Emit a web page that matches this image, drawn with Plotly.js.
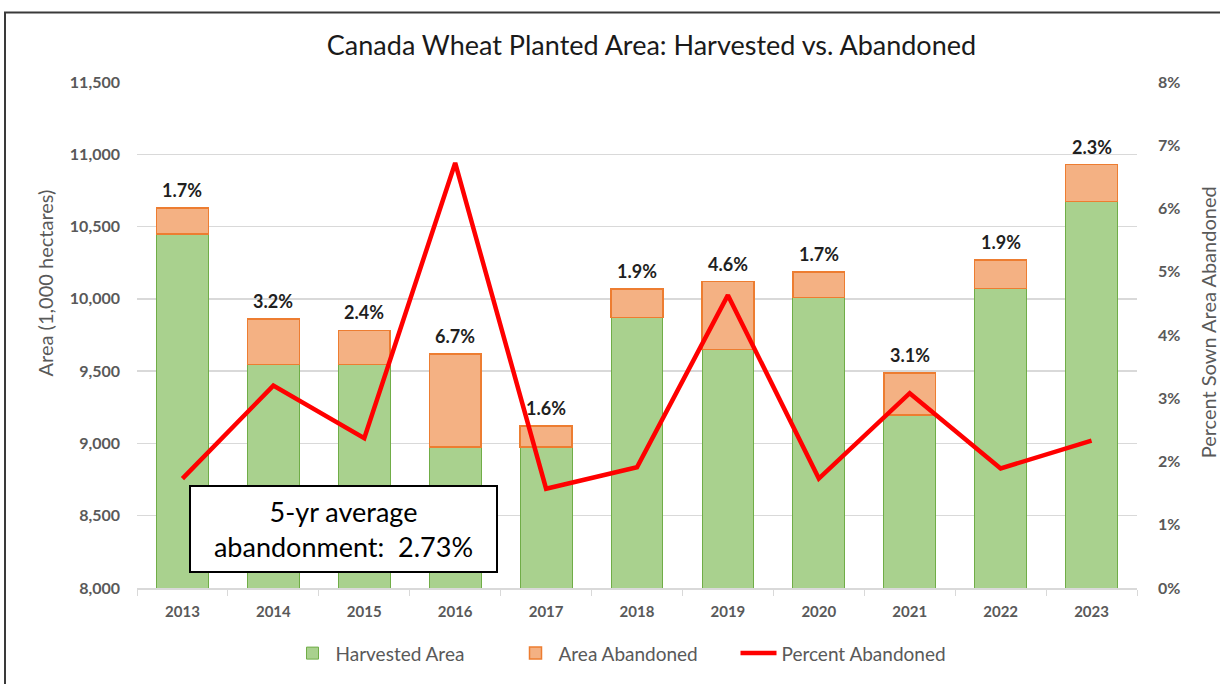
<!DOCTYPE html>
<html>
<head>
<meta charset="utf-8">
<script src="https://cdn.plot.ly/plotly-3.0.1.min.js"></script>
<style>
  html, body { margin: 0; padding: 0; background: #ffffff; }
  #chart { width: 1220px; height: 684px; }
</style>
</head>
<body>
<div id="chart"></div>
<script>
const years = ['2013', '2014', '2015', '2016', '2017', '2018', '2019', '2020', '2021', '2022', '2023'];
const harvestedArea = [10450, 9546, 9546, 8975, 8975, 9872, 9649, 10009, 9196, 10073, 10672];
const abandonedArea = [180, 314, 236, 645, 146, 196, 470, 178, 291, 197, 257];
const percentAbandoned = [1.73, 3.20, 2.37, 6.72, 1.57, 1.91, 4.63, 1.73, 3.08, 1.89, 2.33];
const boxText = '5-yr average<br>abandonment:  2.73%';
const leftTitle = 'Area (1,000 hectares)';
const rightTitle = 'Percent Sown Area Abandoned';

const FONT = 'Lato, "Open Sans", sans-serif';
const GRAY = '#595959';

const traces = [
  {
    type: 'bar', name: 'Harvested Area', x: years, y: harvestedArea,
    marker: { color: '#A9D18E', line: { color: '#70AD47', width: 1 } },
    hoverinfo: 'skip'
  },
  {
    type: 'bar', name: 'Area Abandoned', x: years, y: abandonedArea,
    marker: { color: '#F4B183', line: { color: '#ED7D31', width: 1.5 } },
    hoverinfo: 'skip'
  },
  {
    type: 'scatter', mode: 'lines', name: 'Percent Abandoned', x: years,
    y: percentAbandoned.map(v => v / 100), yaxis: 'y2',
    line: { color: '#FF0000', width: 4.5 },
    hoverinfo: 'skip'
  }
];

const annotations = years.map((yr, i) => ({
  x: i, y: harvestedArea[i] + abandonedArea[i], xref: 'x', yref: 'y',
  text: percentAbandoned[i].toFixed(1) + '%', showarrow: false,
  yanchor: 'bottom', yshift: 5,
  font: { family: FONT, size: 18, color: '#1f1f1f', weight: 'bold' }
}));
annotations.push({
  xref: 'paper', yref: 'paper', x: 0.2065, y: 0.1157,
  xanchor: 'center', yanchor: 'middle', showarrow: false,
  text: boxText, align: 'center',
  width: 301, height: 80, borderpad: 2,
  bgcolor: '#ffffff', bordercolor: '#000000', borderwidth: 2,
  font: { family: FONT, size: 27, color: '#000000' }
});
annotations.push({
  xref: 'paper', yref: 'paper', x: -0.092, y: 0.602,
  xanchor: 'center', yanchor: 'middle', showarrow: false, textangle: -90,
  text: leftTitle, font: { family: FONT, size: 20, color: GRAY }
});
annotations.push({
  xref: 'paper', yref: 'paper', x: 1.071, y: 0.525,
  xanchor: 'center', yanchor: 'middle', showarrow: false, textangle: -90,
  text: rightTitle, font: { family: FONT, size: 20, color: GRAY }
});

const layout = {
  width: 1220, height: 684,
  margin: { l: 137, r: 83, t: 82, b: 92 },
  paper_bgcolor: '#ffffff', plot_bgcolor: '#ffffff',
  font: { family: FONT, color: GRAY },
  showlegend: true,
  barmode: 'stack', bargap: 0.43,
  title: {
    text: 'Canada Wheat Planted Area: Harvested vs. Abandoned',
    x: 0.534, xanchor: 'center', y: 0.933, yanchor: 'middle',
    font: { family: FONT, size: 27, color: '#1a1a1a' }
  },
  xaxis: {
    type: 'category', range: [-0.5, years.length - 0.5],
    showgrid: false, showline: true, linecolor: '#D9D9D9', linewidth: 1.5,
    ticks: 'outside', tickson: 'boundaries', ticklen: 6, tickcolor: '#D9D9D9',
    tickfont: { family: FONT, size: 15, color: GRAY, weight: 'bold' },
    ticklabelstandoff: 9
  },
  yaxis: {
    range: [8000, 11500], dtick: 500, tick0: 8000, tickformat: ',d',
    showgrid: true, gridcolor: '#D9D9D9', gridwidth: 1.5,
    zeroline: false, showline: false, ticks: '',
    ticklabelstandoff: 16,
    tickfont: { family: FONT, size: 16, color: GRAY, weight: 'bold' }
  },
  yaxis2: {
    overlaying: 'y', side: 'right',
    range: [0, 0.08], dtick: 0.01, tick0: 0, tickformat: '.0%',
    showgrid: false, zeroline: false, showline: false, ticks: '',
    ticklabelstandoff: 20,
    tickfont: { family: FONT, size: 16, color: GRAY, weight: 'bold' }
  },
  legend: {
    orientation: 'h', x: 0.487, xanchor: 'center', y: -0.129, yanchor: 'middle',
    traceorder: 'normal', entrywidth: 172, itemwidth: 36,
    font: { family: FONT, size: 19, color: GRAY }
  },
  annotations: annotations,
  shapes: [
    {
      type: 'rect', xref: 'paper', yref: 'paper',
      x0: -0.132, x1: 1.1, y0: -0.25, y1: 1.1373,
      line: { color: '#3a3a3a', width: 2 }, fillcolor: 'rgba(0,0,0,0)', layer: 'below'
    }
  ]
};

Plotly.newPlot('chart', traces, layout, { displayModeBar: false, staticPlot: true });
</script>
</body>
</html>
